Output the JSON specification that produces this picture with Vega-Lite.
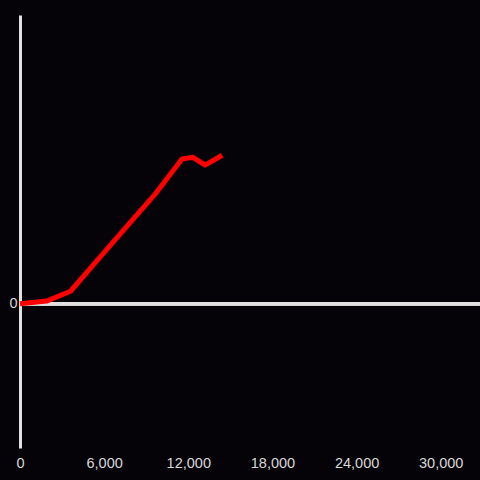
{
  "$schema": "https://vega.github.io/schema/vega-lite/v6.json",
  "width": 460,
  "height": 433,
  "autosize": {"type": "none"},
  "padding": {"left": 20, "top": 15, "right": 0, "bottom": 32},
  "background": "#050307",
  "config": {
    "view": {"stroke": null},
    "font": "Liberation Sans",
    "axis": {"grid": false, "ticks": false, "labelColor": "#d8d8d8", "labelFontSize": 14.5, "labelFont": "Liberation Sans"}
  },
  "data": {
    "values": [
      {"x": 0, "y": 0},
      {"x": 1900, "y": 0.9},
      {"x": 3600, "y": 4.3},
      {"x": 5600, "y": 15.5},
      {"x": 7600, "y": 26.7},
      {"x": 9700, "y": 38.3},
      {"x": 11550, "y": 50.1},
      {"x": 12340, "y": 50.7},
      {"x": 13200, "y": 48.0},
      {"x": 14420, "y": 51.4}
    ]
  },
  "layer": [
    {
      "mark": {"type": "rule", "color": "#e0e0e0", "strokeWidth": 3},
      "encoding": {"y": {"datum": 0, "type": "quantitative"}}
    },
    {
      "mark": {"type": "line", "color": "#ff0000", "strokeWidth": 5, "strokeJoin": "round"},
      "encoding": {
        "x": {
          "field": "x", "type": "quantitative",
          "scale": {"domain": [0, 32800], "nice": false},
          "axis": {"title": null, "domain": false, "labelFlush": false, "values": [0, 6000, 12000, 18000, 24000, 30000], "labelPadding": 8, "format": ",d"}
        },
        "y": {
          "field": "y", "type": "quantitative",
          "scale": {"domain": [-50, 100], "nice": false},
          "axis": {"title": null, "domain": true, "domainColor": "#e0e0e0", "domainWidth": 3, "values": [0], "labelPadding": 3}
        }
      }
    }
  ]
}
